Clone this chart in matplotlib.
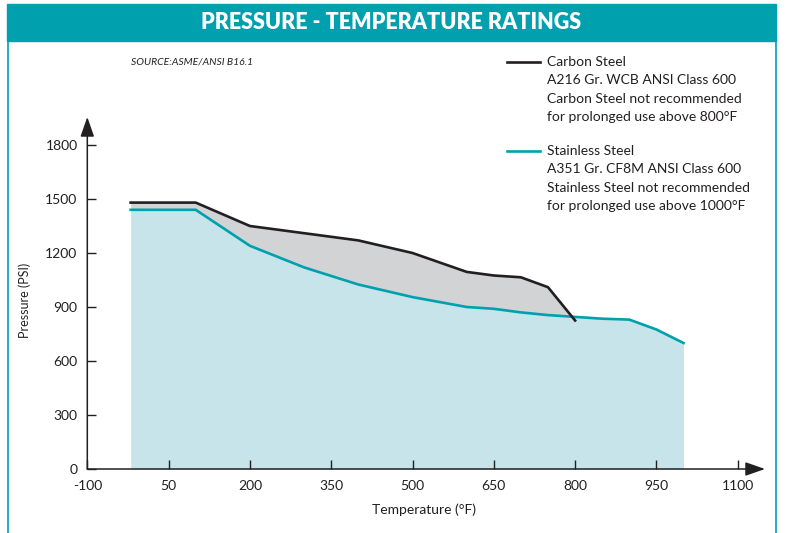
import matplotlib
matplotlib.use("Agg")
import matplotlib.pyplot as plt
import numpy as np
from matplotlib.patches import Rectangle
from matplotlib.lines import Line2D

# Temperature (°F) and pressure ratings (psi)
carbon_temp = [-20, 100, 200, 300, 400, 500, 600, 650, 700, 750, 800]
carbon_psi = [1480, 1480, 1350, 1310, 1270, 1200, 1095, 1075, 1065, 1010, 825]

stainless_temp = [-20, 100, 200, 300, 400, 500, 600, 650, 700, 750, 800, 850, 900, 950, 1000]
stainless_psi = [1440, 1440, 1240, 1120, 1025, 955, 900, 890, 870, 855, 845, 835, 830, 775, 700]

x_ticks = [-100, 50, 200, 350, 500, 650, 800, 950, 1100]
y_ticks = [0, 300, 600, 900, 1200, 1500, 1800]

carbon_label = ["Carbon Steel", "A216 Gr. WCB ANSI Class 600",
                "Carbon Steel not recommended", "for prolonged use above 800°F"]
stainless_label = ["Stainless Steel", "A351 Gr. CF8M ANSI Class 600",
                   "Stainless Steel not recommended", "for prolonged use above 1000°F"]

TEAL = "#00A0AE"
DARK = "#231F20"
BLUE_FILL = "#C6E4EA"
GREY_FILL = "#D1D3D4"
FONT = "Lato"

W, H = 792, 533
fig = plt.figure(figsize=(W / 100, H / 100), dpi=100)
fig.patch.set_facecolor("white")


def fx(px):
    return px / W


def fy(py):
    return 1 - py / H


# Banner and side frame
fig.patches.append(Rectangle((fx(7), fy(41)), fx(776) - fx(7), fy(4) - fy(41),
                             transform=fig.transFigure, color=TEAL, zorder=0))
fig.lines.append(Line2D([fx(7.5), fx(7.5)], [fy(41), 0], transform=fig.transFigure,
                        color=TEAL, lw=1.2))
fig.lines.append(Line2D([fx(775.5), fx(775.5)], [fy(41), 0], transform=fig.transFigure,
                        color=TEAL, lw=1.2))
fig.text(fx(391), fy(22.5), "PRESSURE - TEMPERATURE RATINGS", color="white",
         fontsize=15.5, fontweight="heavy", family=FONT, ha="center", va="center")
fig.text(fx(131), fy(62), "SOURCE:ASME/ANSI B16.1", fontsize=7.5, style="italic",
         family=FONT, color=DARK, ha="left", va="center")

# Plot area
ax = fig.add_axes([fx(87.3), fy(469), (765 - 87.3) / W, (469 - 117) / H])
ax.set_xlim(-100, -100 + (765 - 87.3) / 0.542)
ax.set_ylim(0, (469 - 117) / 0.18)
for s in ax.spines.values():
    s.set_visible(False)

st_t = np.array(stainless_temp, float)
st_p = np.array(stainless_psi, float)
cs_t = np.array(carbon_temp, float)
cs_p = np.array(carbon_psi, float)

ax.fill_between(st_t, 0, st_p, color=BLUE_FILL, lw=0, zorder=1)
tt = np.linspace(cs_t[0], cs_t[-1], 800)
c_i = np.interp(tt, cs_t, cs_p)
s_i = np.interp(tt, st_t, st_p)
ax.fill_between(tt, s_i, c_i, where=c_i >= s_i, interpolate=True,
                color=GREY_FILL, lw=0, zorder=1)
ax.plot(st_t, st_p, color=TEAL, lw=1.9, zorder=3, solid_joinstyle="miter")
ax.plot(cs_t, cs_p, color=DARK, lw=1.9, zorder=4, solid_joinstyle="miter")

# Axes with arrowheads
arrow = dict(arrowstyle="-|>,head_length=0.4,head_width=0.14", color=DARK, lw=1.1,
             mutation_scale=30, shrinkA=0, shrinkB=0)
ax.annotate("", xy=(1, 0), xytext=(0, 0), xycoords="axes fraction",
            arrowprops=arrow, annotation_clip=False, zorder=5)
ax.annotate("", xy=(0, 1), xytext=(0, 0), xycoords="axes fraction",
            arrowprops=arrow, annotation_clip=False, zorder=5)

ax.set_xticks(x_ticks)
ax.set_xticklabels([str(v) for v in x_ticks])
ax.set_yticks(y_ticks)
ax.set_yticklabels([str(v) for v in y_ticks])
ax.tick_params(axis="both", direction="in", length=6.5, width=1.0, color=DARK,
               labelsize=10, labelcolor=DARK)
ax.tick_params(axis="x", pad=8)
ax.tick_params(axis="y", pad=7)
for lab in ax.get_xticklabels() + ax.get_yticklabels():
    lab.set_family(FONT)

fig.text(fx(424), fy(510), "Temperature (°F)", fontsize=10, family=FONT, color=DARK,
         ha="center", va="center")
fig.text(fx(25), fy(300), "Pressure (PSI)", fontsize=9, family=FONT, color=DARK,
         ha="center", va="center", rotation=90)

# Legend
def legend_block(y0, color, lines):
    fig.lines.append(Line2D([fx(507), fx(540)], [fy(y0), fy(y0)],
                            transform=fig.transFigure, color=color, lw=1.9))
    for i, t in enumerate(lines):
        fig.text(fx(547), fy(y0 + i * 18.3), t, fontsize=10, family=FONT, color=DARK,
                 ha="left", va="center")


legend_block(62, DARK, carbon_label)
legend_block(151, TEAL, stainless_label)

fig.savefig("out.png", dpi=100)
